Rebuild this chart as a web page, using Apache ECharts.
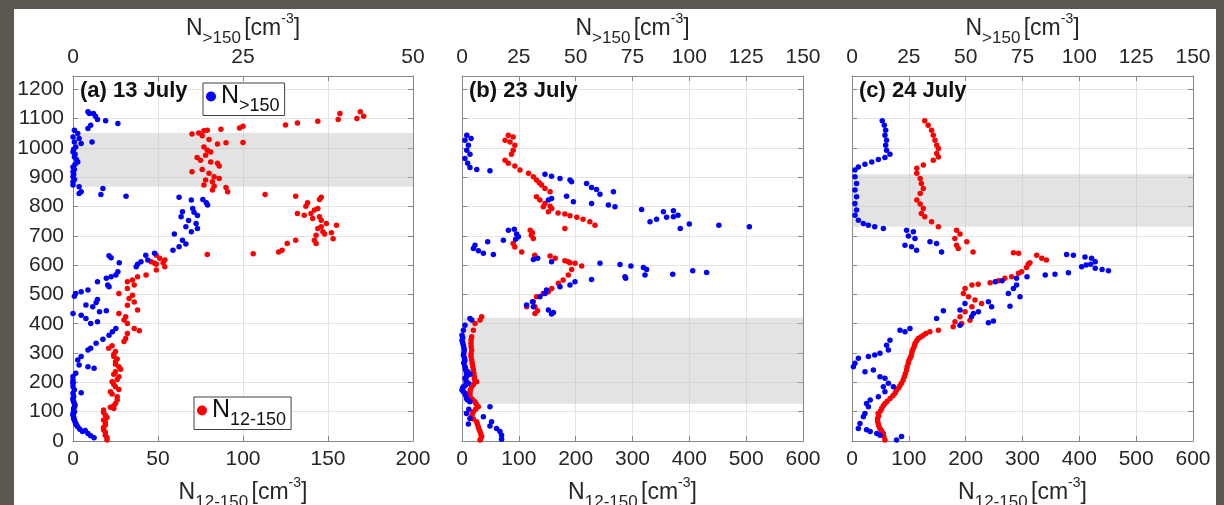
<!DOCTYPE html>
<html>
<head>
<meta charset="utf-8">
<script src="https://cdn.jsdelivr.net/npm/echarts@6/dist/echarts.min.js"></script>
<style>
  html, body { margin: 0; padding: 0; background: #5b5751; width: 1224px; height: 505px; overflow: hidden; }
  #chart { position: absolute; left: 14px; top: 9px; width: 1202px; height: 496px; background: #ffffff; }
</style>
</head>
<body>
<div id="chart"></div>
<script>
// Panel titles, axis ranges and shaded altitude bands
const panelTitles = ['(a) 13 July', '(b) 23 July', '(c) 24 July'];
const bottomMax = [200, 600, 600];      // N12-150 axis range
const bottomStep = [50, 100, 100];
const topMax = [50, 150, 150];          // N>150 axis range
const topTickStep = [12.5, 25, 25];
const topLabelStep = [25, 25, 25];
const altMax = 1245;
const altStep = 100;
const bands = [[867, 1051], [127, 420], [731, 910]];

// 13 July: [N>150, altitude]
const aBlue = [
  [2.2,1123],[2.4,1117],[3.0,1117],[3.3,1108],[3.6,1097],[4.8,1092],[6.6,1083],[2.6,1077],[2.2,1066],[2.8,1020],
  [0.2,1060],[0.7,1049],[0,1037],[0.9,1032],[0.2,1020],[1.2,1015],[0.4,1003],[0.1,995],[0,986],[0.3,978],[0.2,969],
  [0.5,960],[0.7,952],[0.3,944],[0,935],[0.2,926],[0,918],[0.1,910],[0,901],[0.2,892],[0,884],[0,873],
  [0.9,867],[1.2,850],[0.9,844],[4.4,861],[4.1,841],[7.8,835],
  [15.6,831],[17.4,822],[19.1,824],[19.6,813],[19.8,805],[17.6,793],[16.1,782],[18.3,769],[17.8,780],[15.9,765],
  [16.6,731],[18.1,742],[18.3,725],[17.4,714],[17.0,752],[14.9,706],[16.1,685],[16.6,672],[15.6,663],[14.7,651],
  [5.3,632],[5.6,625],[6.8,608],[10.7,634],[12,640],[11,617],[10,611],[9.5,603],
  [9.3,594],[6.6,577],[6.3,566],[5.6,560],[4.9,555],[3.6,543],[5.1,532],[5.3,526],[2.2,515],[1.2,509],[0.4,503],
  [0.2,494],[3.6,483],[3.4,472],[1.9,464],[2.9,458],[4.9,444],[3.9,441],[0,435],[1.2,429],[1.9,418],[2.6,401],
  [3.6,407],[6.3,384],[5.8,373],[5.3,361],[4.4,347],[3.4,333],[2.6,316],[2.2,310],[1.2,288],[0.7,276],[0.9,259],
  [3.1,248],[2.2,253],[0.4,231],[0,220],[0,208],[0,200],[0,196],[0,185],[0.2,175],[1.2,165],[0,163],[0.1,152],
  [0,146],[0,140],[0.1,134],[0.2,128],[0.3,122],[0.2,117],[0.1,111],[0.1,105],[0.2,99],[0,94],[0,88],[0.1,83],
  [0.1,77],[0.2,72],[0.3,66],[0.4,60],[0.5,55],[0.7,49],[1,40],[1.8,36],[1.4,32],[2.2,26],[2.6,18],[3.1,11]
];
// 13 July: [N12-150, altitude]
const aRed = [
  [157,1117],[169,1123],[171,1108],[167,1100],[156,1097],[144,1091],[132,1085],[125,1078],[100,1074],[98,1068],[87,1063],[100,1018],
  [70,1047],[74,1051],[77,1058],[79,1060],[76,1041],[80,1028],[85,1013],[90,1017],[77,1003],[79,992],[81,986],[78,975],
  [73,967],[75,958],[81,952],[85,947],[86,938],[76,926],[70,918],[80,913],[83,901],[86,895],[78,890],[82,884],[77,873],
  [83,869],[90,865],[91,850],[82,856],
  [113,841],[131,835],[146,831],[145,824],[138,813],[137,801],[144,793],[142,788],[140,776],[132,776],[136,770],[145,765],
  [141,759],[146,753],[155,736],[149,742],[146,731],[144,725],[147,714],[152,710],[143,702],[148,706],[142,685],[153,690],
  [143,674],[131,685],[126,674],[123,651],[121,645],[106,639],[79,636],
  [49,634],[51,623],[54,617],[53,608],[46,611],[49,603],[48,606],[54,594],[49,583],[43,566],[38,560],[35,549],[32,543],
  [36,532],[32,520],[27,503],[35,497],[33,486],[36,474],[32,463],[38,447],[27,435],[31,424],[30,413],[32,401],[36,384],
  [39,376],[32,367],[31,350],[30,339],[23,325],[21,316],[25,305],[24,296],[24,288],[26,280],[25,270],[25,262],[27,253],
  [28,245],[25,236],[24,228],[27,219],[26,210],[23,202],[24,193],[25,185],[27,176],[22,168],[23,160],[26,151],[26,140],
  [25,128],[24,120],[22,115],[24,111],[18,106],[18,97],[19,89],[20,80],[18,72],[19,64],[19,55],[18,46],[18,38],[19,30],
  [19,20],[20,12],[20,3]
];
// 23 July: [N>150, altitude]
const bBlue = [
  [2.1,1043],[4,1032],[1.3,1026],[2.8,1009],[2.1,992],[3.5,978],[1.3,964],[2.5,947],[3.5,933],[6.5,926],[12.3,922],
  [36.5,910],[39.4,903],[43.1,895],[47.5,890],[48.2,884],[54.8,878],[57,865],[59.2,858],[60.7,842],[66.6,850],
  [39.4,827],[38,822],[46,835],[49,816],[57,810],[64.4,805],[67.3,799],[79,790],[88.6,782],[93,785],[85.6,756],
  [82.7,748],[90,763],[93,765],[95,770],[96,725],[100,740],[113,736],[126.4,731],
  [20.4,719],[23,722],[24,706],[24.8,697],[23.6,688],[11.3,680],[18.2,685],[5.7,668],[5,657],[7.2,649],[9.4,640],
  [13.8,636],[33.3,623],[31.4,619],[39.4,611],[60.7,606],[69.5,602],
  [74.3,597],[79.8,592],[81.2,585],[80.5,566],[92.7,569],[101.5,581],[107.6,575],[71.7,560],[72,555],[57,551],
  [49.7,543],[47.5,532],[43.1,526],[37.2,515],[36.5,503],[34.3,492],[31,475],[28.4,464],[31.4,458],[38,447],
  [40.2,438],[39.4,433],
  [3.5,418],[4.3,413],[1.3,395],[0.6,378],[0,361],[0.3,352],[0,344],[0.3,335],[0.6,327],[0.8,318],[1,310],[0.8,301],
  [0.6,293],[1,285],[1.3,276],[1,270],[0.8,265],[1.3,253],[1.5,247],[1.6,242],[2.5,236],[2,231],[3.5,228],[2,220],
  [1.3,214],[1.8,205],[2.8,197],[1.5,190],[0.6,185],[0.3,180],[0,174],[0.6,168],[1.3,163],[1.6,155],[2,145],[2.5,140],
  [3.5,134],[12.3,117],[3,108],[2,94],[3.5,77],[9.4,83],[2.8,58],[12.3,51],[13,66],[15.2,43],[16.7,32],[17.4,20],[17.4,6]
];
// 23 July: [N12-150, altitude]
const bRed = [
  [81.5,1043],[90,1037],[75.7,1026],[84.5,1020],[93,1009],[90,992],[87,978],[75.7,958],[81.5,947],[93,938],[102,924],
  [117,913],[125.5,901],[131,890],[136,881],[140,873],[146,861],[155,850],[131,833],[137,822],[146,810],[155,801],
  [158,793],[143,799],[152,782],[169,778],[181,774],[190,768],[202,763],[213,756],[225,748],[234,736],[181,725],
  [120,719],[122,702],[125.5,691],[124,710],[90,674],[93,662],[105,645],[128,634],[155,631],[164,623],[181,615],[190,608],
  [187,611],[199,606],[210.6,597],[193,585],[187,566],[178,549],[169.5,538],[158,520],[152,509],[143,503],[131,492],
  [125.5,475],[128.4,458],[113.8,458],[133,444],[128.4,435],
  [34.6,424],[31.7,413],[23,401],[20,378],[17,356],[16,345],[15.8,333],[16,322],[17,310],[16,298],[15.8,288],[17,276],
  [18,265],[19,253],[20,242],[21,230],[21.7,219],[22,210],[25.8,202],[20,193],[17,185],[15,176],[14,168],[14,160],
  [14,151],[18,142],[23,134],[25,125],[28.7,117],[24,108],[20,100],[18,92],[17,83],[20,75],[25.8,66],[27,58],[28.7,49],
  [30,40],[31.7,32],[33,24],[34.6,15],[33,8],[31.7,3]
];
// 24 July: [N>150, altitude]
const cBlue = [
  [13.3,1092],[14.2,1077],[14.8,1060],[14.5,1043],[15.2,1026],[14.8,1009],[15.2,992],[16.7,978],[14.5,967],[11.6,960],
  [8.7,952],[5.7,944],[2.8,935],[1.3,924],[1.3,901],[2,878],[1.3,856],[2,833],[1.3,810],[2,788],[1.3,770],[2.8,753],
  [5,742],[7.2,736],[10,731],[13.8,725],
  [24,719],[27,714],[24.8,699],[27.7,691],[23.3,668],[26.2,663],[28.4,651],[34.3,680],[37.2,674],[39.4,645],
  [94.4,636],[97.4,634],[102.5,628],[105.4,623],[107,611],[105,603],[101,594],[103,600],[107,589],[110,585],[112.8,581],
  [95.2,574],[89.3,569],[85,566],[77,560],[72.4,555],[66,547],[63,543],[72.4,532],[71,520],[68.8,503],[73.9,492],
  [69.5,460],[61.4,458],[60,475],[55.6,441],[53.4,435],[49.7,469],[47.5,447],[52.6,424],[62.2,409],[60,403],[47.5,395],
  [40.2,444],[37.2,418],[25.5,384],[23.3,373],[21.1,378],[16.7,344],[15.2,327],[16,310],[12.3,299],[10,293],[7.2,288],
  [2.8,282],[1.3,265],[0.6,253],[5.7,236],[9.4,242],[12.3,219],[14.5,214],[16,197],[13.8,185],[18.2,185],[14.5,168],
  [11.6,151],[8,140],[6.4,128],[7.2,117],[5.7,94],[5,83],[3.5,60],[2.8,43],[6.4,38],[8,32],[10.9,26],[12.3,20],[19.6,3],[21.8,15]
];
// 24 July: [N12-150, altitude]
const cRed = [
  [128,1092],[134,1077],[140,1060],[143,1043],[146,1026],[149,1009],[152,998],[149,981],[152,969],[143,958],[125.5,941],
  [114,930],[114,913],[120,895],[122,878],[125.5,861],[120,844],[114,822],[120,808],[125.5,793],[122,776],[128,765],
  [140,748],[152,731],
  [184,719],[190,706],[181,691],[202,680],[184,668],[187,657],[213,645],[284,642],[293,640],[325,634],[334,623],
  [342,617],[313,608],[310,603],[307,592],[298.5,577],[293,572],[281,560],[269,555],[257.5,547],[243,540],[222,535],
  [211,532],[199,520],[196,503],[205,492],[216.4,481],[228,469],[211,458],[199,441],[190,424],[181.2,407],[193,401],
  [207.6,412],[178,390],[152,378],[137,373],[130,367],[125.5,361],[121,355],[116.7,350],[114,342],[111,333],[110,325],
  [108,316],[106,308],[105,299],[104,290],[102,282],[100,274],[99,265],[97,253],[96,242],[94,230],[92,219],[90,208],
  [87,197],[84,188],[81.5,180],[78,172],[75.7,163],[72,154],[67,145],[62,136],[58,128],[55,120],[52.2,111],[50,102],
  [46,94],[47,85],[45,77],[45,68],[46,60],[47,52],[49,43],[52,35],[55,26],[56,15],[58,3]
];

const blueSets = [aBlue, bBlue, cBlue];
const redSets = [aRed, bRed, cRed];

const BLUE = '#0000ff';
const RED = '#ff0000';
const AXIS = '#878787';
const TEXT = '#262626';
const GRID = '#e4e4e4';
const FONT = '"Liberation Sans", Arial, Helvetica, sans-serif';

const gridLefts = [59, 448, 838];
const gridWidths = [340, 341, 341];
const gridTop = 67, gridHeight = 365;

const nameRich = {
  n: { fontSize: 23, color: TEXT, fontFamily: FONT },
  s: { fontSize: 17, color: TEXT, fontFamily: FONT, padding: [20, 0, 0, 0] },
  p: { fontSize: 14, color: TEXT, fontFamily: FONT, padding: [0, 0, 18, 0] }
};

const grids = [], xAxes = [], yAxes = [], series = [], titles = [];
for (let i = 0; i < 3; i++) {
  grids.push({ left: gridLefts[i], top: gridTop, width: gridWidths[i], height: gridHeight, outerBoundsMode: 'none', containLabel: false });
  const common = {
    gridIndex: i,
    axisLine: { show: true, onZero: false, lineStyle: { color: AXIS, width: 1 } },
    axisTick: { show: true, inside: true, length: 5, lineStyle: { color: AXIS } }
  };
  // bottom axis: N12-150
  xAxes.push(Object.assign({}, common, {
    type: 'value', position: 'bottom', min: 0, max: bottomMax[i], interval: bottomStep[i],
    axisLabel: { fontSize: 21, color: TEXT, fontFamily: FONT, margin: 8, formatter: v => String(v) },
    splitLine: { show: true, lineStyle: { color: GRID } },
    name: '{n|N}{s|12-150} {n|[cm}{p|-3}{n|]}', nameLocation: 'middle', nameGap: 33,
    nameTextStyle: { rich: nameRich }
  }));
  // top axis: N>150
  const step = topLabelStep[i];
  xAxes.push(Object.assign({}, common, {
    type: 'value', position: 'top', min: 0, max: topMax[i], interval: topTickStep[i],
    axisLabel: { fontSize: 21, color: TEXT, fontFamily: FONT, margin: 8,
      formatter: v => (Math.abs(v / step - Math.round(v / step)) < 1e-6 ? String(v) : '') },
    splitLine: { show: false },
    name: '{n|N}{s|>150} {n|[cm}{p|-3}{n|]}', nameLocation: 'middle', nameGap: 29,
    nameMoveOverlap: false,
    nameTextStyle: { rich: nameRich }
  }));
  // left altitude axis (labels only on the first panel)
  yAxes.push(Object.assign({}, common, {
    type: 'value', position: 'left', min: 0, max: altMax, interval: altStep,
    axisLabel: { show: i === 0, fontSize: 21, color: TEXT, fontFamily: FONT, margin: 9,
      showMaxLabel: false, formatter: v => String(v) },
    splitLine: { show: true, lineStyle: { color: GRID } }
  }));
  // right axis: box edge with inward ticks
  yAxes.push(Object.assign({}, common, {
    type: 'value', position: 'right', min: 0, max: altMax, interval: altStep,
    axisLabel: { show: false }, splitLine: { show: false }
  }));

  // shaded altitude band
  series.push({
    type: 'scatter', xAxisIndex: 2 * i, yAxisIndex: 2 * i, data: [], z: 1, silent: true,
    markArea: {
      silent: true,
      itemStyle: { color: 'rgba(190,190,190,0.43)' },
      data: [[{ yAxis: bands[i][0] }, { yAxis: bands[i][1] }]]
    }
  });
  series.push({
    name: 'N12-150', type: 'scatter', xAxisIndex: 2 * i, yAxisIndex: 2 * i,
    data: redSets[i], symbolSize: 5.5, itemStyle: { color: RED, opacity: 1 }, z: 3
  });
  series.push({
    name: 'N>150', type: 'scatter', xAxisIndex: 2 * i + 1, yAxisIndex: 2 * i,
    data: blueSets[i], symbolSize: 5.5, itemStyle: { color: BLUE, opacity: 1 }, z: 4
  });

  titles.push({
    text: panelTitles[i], left: gridLefts[i] + 7, top: gridTop + 4, padding: 0,
    textStyle: { fontSize: 22, fontWeight: 'bold', color: '#111', fontFamily: FONT }
  });
}

const legendCommon = {
  orient: 'vertical', icon: 'circle', itemWidth: 10, itemHeight: 10, itemGap: 0,
  borderColor: '#404040', borderWidth: 1, backgroundColor: '#ffffff', borderRadius: 0,
  selectedMode: false
};
const legendRich = {
  n: { fontSize: 25, color: '#111', fontFamily: FONT },
  s: { fontSize: 18, color: '#111', fontFamily: FONT, padding: [20, 0, 0, 0] }
};

const chart = echarts.init(document.getElementById('chart'), null, { renderer: 'canvas' });
chart.setOption({
  animation: false,
  title: titles,
  legend: [
    Object.assign({}, legendCommon, {
      data: ['N>150'], left: 189, top: 74, padding: [1, 5, 0, 3],
      formatter: () => '{n|N}{s|>150}', textStyle: { rich: legendRich }
    }),
    Object.assign({}, legendCommon, {
      data: ['N12-150'], left: 180, top: 388, padding: [1, 5, 0, 3],
      formatter: () => '{n|N}{s|12-150}', textStyle: { rich: legendRich }
    })
  ],
  grid: grids,
  xAxis: xAxes,
  yAxis: yAxes,
  series: series
});
</script>
</body>
</html>
